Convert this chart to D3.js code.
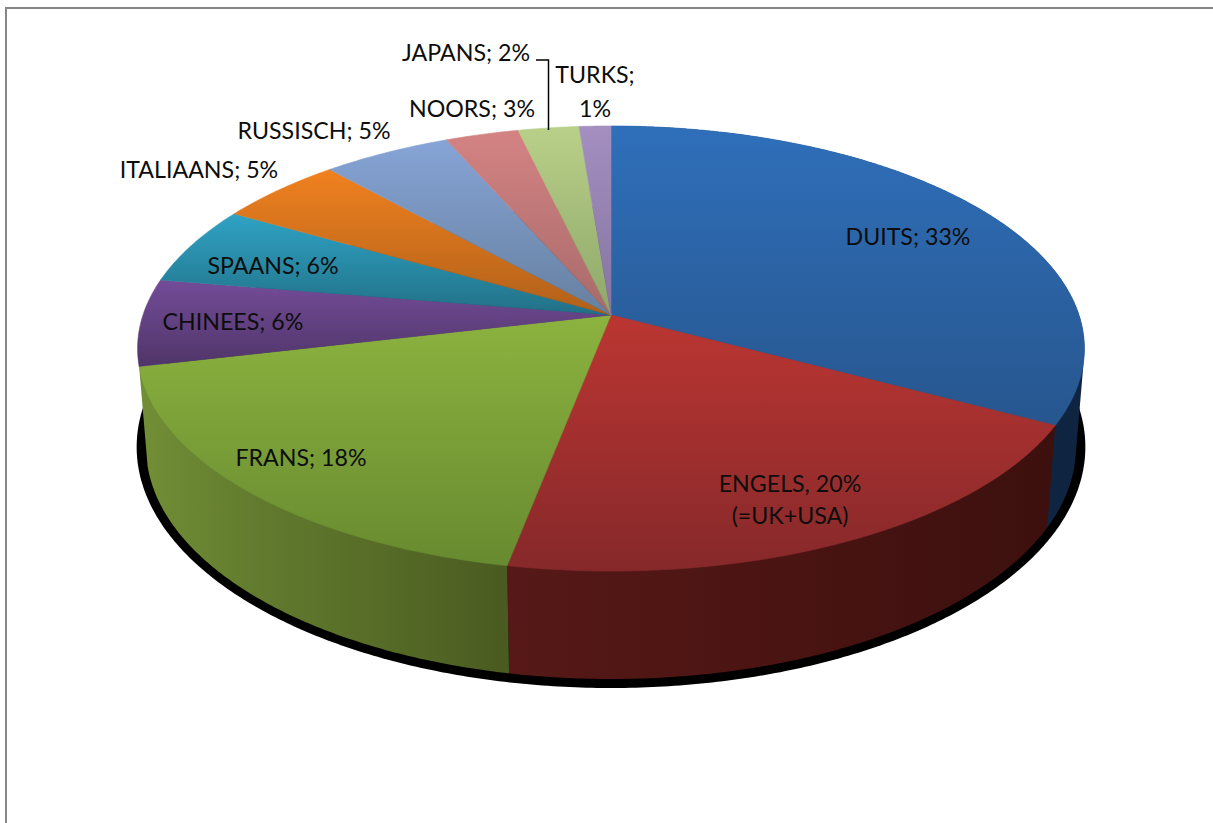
<!DOCTYPE html>
<html>
<head>
<meta charset="utf-8">
<script src="https://cdn.jsdelivr.net/npm/d3@7"></script>
<style>
  html, body { margin: 0; padding: 0; background: #fff; }
  svg { display: block; }
  text { font-family: Lato, "Open Sans", sans-serif; font-size: 23.2px; fill: #0d0d0d; }
</style>
</head>
<body>
<div id="chart"></div>
<script>
// slices, clockwise from 12 o'clock
let languages = ["DUITS", "ENGELS", "FRANS", "CHINEES", "SPAANS", "ITALIAANS", "RUSSISCH", "NOORS", "JAPANS", "TURKS"];
let shares = [32.8, 20.2, 18.3, 6.3, 5.7, 5.0, 5.1, 2.9, 2.4, 1.25];

// gradient colours of the top face (top to bottom) and of the wall (left to right)
let topColors = [
  ["#2f6fba", "#27568e"], ["#bb3632", "#86282a"], ["#8cb33f", "#688a30"], ["#744c99", "#4f3568"],
  ["#2fa3c4", "#217086"], ["#f0811f", "#b0601a"], ["#86a4d6", "#66809f"], ["#d48383", "#a86a6a"],
  ["#b8d088", "#8fa76a"], ["#a48fc0", "#8474a0"]
];
let wallColors = [
  ["#12294a", "#0f2440"],
  ["#561917", "#4a1412", "#3c100e"],
  ["#728f36", "#617a2e", "#566b27", "#4a5a20"]
];

let labelLines = [["DUITS; 33%"], ["ENGELS, 20%", "(=UK+USA)"], ["FRANS; 18%"], ["CHINEES; 6%"], ["SPAANS; 6%"],
  ["ITALIAANS; 5%"], ["RUSSISCH; 5%"], ["NOORS; 3%"], ["JAPANS; 2%"], ["TURKS;", "1%"]];
let labelX = [908, 790, 301, 233, 273, 199, 314, 472, 466, 595];
let labelY = [245, 492, 466, 330, 274, 178, 139, 117, 61, 83];

let width = 1213, height = 823;

// perspective of the tilted disc
let apex = {x: 611, y: 315};
let rx = 468, ry = 217.5, tilt = 0.1506;

function project(a, ring) {
  let d = 1 + tilt * Math.cos(a);
  return [
    apex.x + ring.sx * rx * Math.sin(a) / d,
    apex.y + ring.dy - ring.sy * ry * Math.cos(a) / d
  ];
}

let topRing = {sx: 1, sy: 1, dy: 0};
let bottomRing = {sx: 0.982, sy: 1.04, dy: 97.7};
let shadowRing = {sx: 1.002, sy: 1.083, dy: 95.7};

function arcPoints(a0, a1, ring) {
  let n = Math.max(2, Math.ceil(Math.abs(a1 - a0) / 0.01));
  return d3.range(n + 1).map(i => project(a0 + (a1 - a0) * i / n, ring));
}

let line = d3.line();

let svg = d3.select("#chart").append("svg")
    .attr("width", width)
    .attr("height", height);

let defs = svg.append("defs");

function addGradient(id, stops, horizontal) {
  let g = defs.append("linearGradient")
      .attr("id", id)
      .attr("x1", 0).attr("y1", 0)
      .attr("x2", horizontal ? 1 : 0).attr("y2", horizontal ? 0 : 1);
  stops.forEach((c, i) => {
    g.append("stop").attr("offset", (100 * i / (stops.length - 1)) + "%").attr("stop-color", c);
  });
}

topColors.forEach((c, i) => addGradient("top" + i, c, false));
wallColors.forEach((c, i) => addGradient("wall" + i, c, true));

// chart frame: only top and left edges show in the crop
svg.append("path")
    .attr("d", line([[6, height], [6, 8], [width, 8]]))
    .attr("fill", "none")
    .attr("stroke", "#868686")
    .attr("stroke-width", 2);

let slices = d3.pie().sort(null)(shares);

// black shadow under the disc
svg.append("path")
    .attr("d", line(arcPoints(0, 2 * Math.PI, shadowRing)) + "Z")
    .attr("fill", "#000");

// walls: only the three front slices are visible.
// hull of both rims, so the tangent edge at the far left and right gets filled too
svg.selectAll("path.wall")
    .data(slices.slice(0, 3))
    .enter().append("path")
    .attr("class", "wall")
    .attr("d", d => {
      let pts = arcPoints(d.startAngle, d.endAngle, topRing).concat(arcPoints(d.startAngle, d.endAngle, bottomRing));
      return line(d3.polygonHull(pts)) + "Z";
    })
    .attr("fill", (d, i) => "url(#wall" + i + ")");

// top faces
svg.selectAll("path.slice")
    .data(slices)
    .enter().append("path")
    .attr("class", "slice")
    .attr("d", d => line([[apex.x, apex.y]].concat(arcPoints(d.startAngle, d.endAngle, topRing))) + "Z")
    .attr("fill", (d, i) => "url(#top" + i + ")")
    .attr("stroke", (d, i) => "url(#top" + i + ")")
    .attr("stroke-width", 0.6);

// leader line for JAPANS
let japans = slices[languages.indexOf("JAPANS")];
let leaderEnd = project((japans.startAngle + japans.endAngle) / 2, topRing);
svg.append("path")
    .attr("d", line([[536, 60], [leaderEnd[0], 60], [leaderEnd[0], leaderEnd[1] + 2]]))
    .attr("fill", "none")
    .attr("stroke", "#000")
    .attr("stroke-width", 1.5);

// labels
let labels = svg.selectAll("text.label")
    .data(labelLines)
    .enter().append("text")
    .attr("class", "label")
    .attr("text-anchor", "middle");

labels.selectAll("tspan")
    .data((d, i) => d.map((t, j) => ({t: t, x: labelX[i], y: labelY[i] + j * (i == 9 ? 34 : 32)})))
    .enter().append("tspan")
    .attr("x", d => d.x)
    .attr("y", d => d.y)
    .text(d => d.t);
</script>
</body>
</html>
